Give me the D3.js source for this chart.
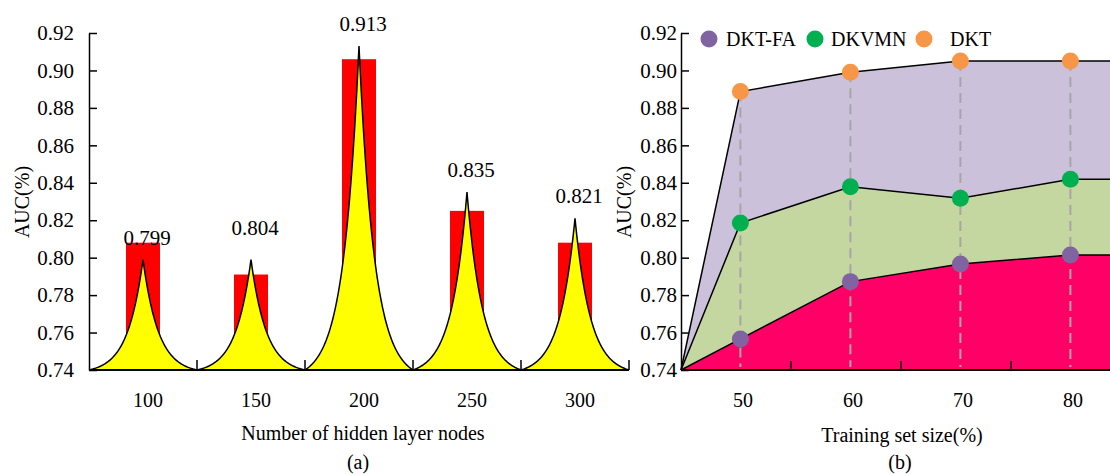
<!DOCTYPE html>
<html>
<head>
<meta charset="utf-8">
<script src="https://cdn.jsdelivr.net/npm/d3@7"></script>
<style>
  body { margin: 0; background: #fff; }
  svg { display: block; }
</style>
</head>
<body>
<svg id="chart" width="1110" height="474"></svg>
<script>
// (a) hidden layer nodes
const hiddenNodes = ['100', '150', '200', '250', '300'];
const barAUC = [0.808, 0.791, 0.906, 0.825, 0.808];
const peakAUC = [0.799, 0.799, 0.913, 0.835, 0.821];
const labelAUC = [0.799, 0.804, 0.913, 0.835, 0.821];
const aucTicks = [0.74, 0.76, 0.78, 0.80, 0.82, 0.84, 0.86, 0.88, 0.90, 0.92];

// (b) training set size
const trainSize = [50, 60, 70, 80];
const dktFA = [0.7566, 0.7872, 0.7966, 0.8014];
const dkvmn = [0.8185, 0.8379, 0.8317, 0.8419];
const dkt = [0.8887, 0.8990, 0.9050, 0.9050];
const seriesNames = ['DKT-FA', 'DKVMN', 'DKT'];

const FONT = '"Liberation Serif", "Times New Roman", serif';

const svg = d3.select('#chart');
svg.append('rect').attr('width', 1110).attr('height', 474).attr('fill', '#fff');

const y = d3.scaleLinear().domain([0.74, 0.92]).range([370, 33]);

function label(g, x, yy, txt, size) {
  return g.append('text').attr('x', x).attr('y', yy).attr('text-anchor', 'middle')
    .style('font-family', FONT).style('font-size', size + 'px').attr('fill', '#000').text(txt);
}

// ---------- panel (a) ----------
const xa = d3.scaleBand().domain(hiddenNodes).range([89, 629]).padding(0);
const bw = xa.bandwidth();
const ga = svg.append('g');

// red bars
ga.selectAll('rect.bar')
  .data(hiddenNodes)
  .enter()
  .append('rect')
  .attr('class', 'bar')
  .attr('x', d => xa(d) + bw / 2 - 17)
  .attr('width', 34)
  .attr('y', (d, i) => y(barAUC[i]))
  .attr('height', (d, i) => y(0.74) - y(barAUC[i]))
  .attr('fill', '#ff0000');

// yellow cusp shapes
function cusp(cat, peak) {
  const c = xa(cat) + bw / 2, half = bw / 2;
  const k = 3.5, e = Math.exp(-k);
  return d3.range(-80, 81).map(j => {
    const t = j / 80;
    const h = (Math.exp(-k * Math.abs(t)) - e) / (1 - e);
    return [c + t * half, 0.74 + (peak - 0.74) * h];
  });
}
const cuspArea = d3.area().x(d => d[0]).y0(y(0.74)).y1(d => y(d[1]));
const cuspLine = d3.line().x(d => d[0]).y(d => y(d[1]));

hiddenNodes.forEach((cat, i) => {
  const pts = cusp(cat, peakAUC[i]);
  ga.append('path').attr('d', cuspArea(pts)).attr('fill', '#ffff00');
  ga.append('path').attr('d', cuspLine(pts))
    .attr('fill', 'none').attr('stroke', '#000').attr('stroke-width', 1.5);
});

// value labels
hiddenNodes.forEach((cat, i) => {
  label(ga, xa(cat) + bw / 2 + 4, y(labelAUC[i]) - 15, labelAUC[i].toFixed(3), 21);
});

// axes
const yAxisA = d3.axisLeft(y).tickValues(aucTicks).tickFormat(d3.format('.2f'))
  .tickSizeInner(-8).tickSizeOuter(0).tickPadding(15);
ga.append('g').attr('transform', 'translate(89,0)').call(yAxisA)
  .call(g => g.selectAll('line, path').attr('stroke', '#000').attr('stroke-width', 1.5))
  .call(g => g.selectAll('text').style('font-family', FONT).style('font-size', '21px').attr('fill', '#000'));

const xAxisA = d3.axisBottom(xa).tickSize(0).tickPadding(0);
ga.append('g').attr('transform', 'translate(0,370)').call(xAxisA)
  .call(g => g.select('.domain').remove())
  .call(g => g.selectAll('text').attr('dy', null).attr('y', 37).attr('x', 5)
    .style('font-family', FONT).style('font-size', '20px').attr('fill', '#000'));

ga.append('line').attr('x1', 89).attr('x2', 629).attr('y1', 370).attr('y2', 370)
  .attr('stroke', '#000').attr('stroke-width', 2);
ga.selectAll('line.btick')
  .data(hiddenNodes)
  .enter()
  .append('line')
  .attr('class', 'btick')
  .attr('x1', d => xa(d) + bw).attr('x2', d => xa(d) + bw)
  .attr('y1', 370).attr('y2', 360)
  .attr('stroke', '#000').attr('stroke-width', 1.5);

label(ga, 0, 0, 'AUC(%)', 20).attr('transform', 'translate(29,202) rotate(-90)');
label(ga, 363, 440, 'Number of hidden layer nodes', 20);
label(ga, 358, 469, '(a)', 20);

// ---------- panel (b) ----------
const xb = d3.scaleLinear().domain([44.6, 84.6]).range([681, 1121]);
const gb = svg.append('g');

function seriesPts(vals) {
  return [[44.6, 0.74]]
    .concat(trainSize.map((s, i) => [s, vals[i]]))
    .concat([[84.6, vals[vals.length - 1]]]);
}
const areaB = d3.area().x(d => xb(d[0])).y0(y(0.74)).y1(d => y(d[1]));
const lineB = d3.line().x(d => xb(d[0])).y(d => y(d[1]));

const series = [
  { name: 'DKT', vals: dkt, fill: '#ccc1da', dot: '#f79646' },
  { name: 'DKVMN', vals: dkvmn, fill: '#c4d7a0', dot: '#00b050' },
  { name: 'DKT-FA', vals: dktFA, fill: '#ff0066', dot: '#8064a2' }
];

series.forEach(s => {
  gb.append('path').attr('d', areaB(seriesPts(s.vals))).attr('fill', s.fill);
});
series.forEach(s => {
  gb.append('path').attr('d', lineB(seriesPts(s.vals)))
    .attr('fill', 'none').attr('stroke', '#000').attr('stroke-width', 1.5);
});

// dashed guides
gb.selectAll('line.guide')
  .data(trainSize)
  .enter()
  .append('line')
  .attr('class', 'guide')
  .attr('x1', d => xb(d)).attr('x2', d => xb(d))
  .attr('y1', (d, i) => y(dkt[i])).attr('y2', y(0.74) - 3)
  .attr('stroke', '#a6a6a6').attr('stroke-width', 2)
  .attr('stroke-dasharray', '10,6');

series.forEach(s => {
  gb.selectAll(null)
    .data(trainSize)
    .enter()
    .append('circle')
    .attr('cx', d => xb(d))
    .attr('cy', (d, i) => y(s.vals[i]))
    .attr('r', 8.5)
    .attr('fill', s.dot);
});

const yAxisB = d3.axisLeft(y).tickValues(aucTicks).tickFormat(d3.format('.2f'))
  .tickSizeInner(-8).tickSizeOuter(0).tickPadding(4);
gb.append('g').attr('transform', 'translate(681,0)').call(yAxisB)
  .call(g => g.selectAll('line, path').attr('stroke', '#000').attr('stroke-width', 1.5))
  .call(g => g.selectAll('text').style('font-family', FONT).style('font-size', '21px').attr('fill', '#000'));

const xAxisB = d3.axisBottom(xb).tickValues(trainSize).tickFormat(d3.format('d'))
  .tickSize(0).tickPadding(0);
gb.append('g').attr('transform', 'translate(0,370)').call(xAxisB)
  .call(g => g.select('.domain').remove())
  .call(g => g.selectAll('text').attr('dy', null).attr('y', 37).attr('x', 2)
    .style('font-family', FONT).style('font-size', '20px').attr('fill', '#000'));

gb.append('line').attr('x1', 681).attr('x2', 1110).attr('y1', 370).attr('y2', 370)
  .attr('stroke', '#000').attr('stroke-width', 2);
gb.selectAll('line.btick')
  .data([54.6, 64.6, 74.6])
  .enter()
  .append('line')
  .attr('x1', d => xb(d)).attr('x2', d => xb(d))
  .attr('y1', 370).attr('y2', 361)
  .attr('stroke', '#000').attr('stroke-width', 1.5);

// legend
const legendX = [709, 815, 924];
const legendTextX = [726, 831, 950];
const legendColors = ['#8064a2', '#00b050', '#f79646'];
seriesNames.forEach((n, i) => {
  gb.append('circle').attr('cx', legendX[i]).attr('cy', 39).attr('r', 8.5).attr('fill', legendColors[i]);
  label(gb, legendTextX[i], 46, n, 20).attr('text-anchor', 'start');
});

label(gb, 0, 0, 'AUC(%)', 20).attr('transform', 'translate(631,202) rotate(-90)');
label(gb, 902, 442, 'Training set size(%)', 20);
label(gb, 900, 469, '(b)', 20);
</script>
</body>
</html>
